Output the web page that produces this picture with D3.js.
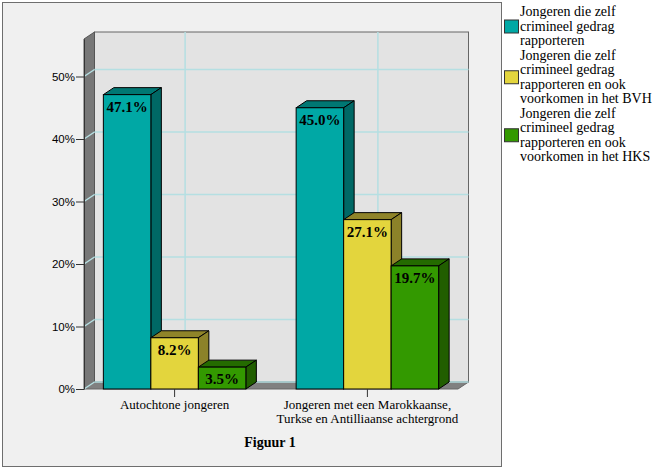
<!DOCTYPE html>
<html>
<head>
<meta charset="utf-8">
<script src="https://cdn.jsdelivr.net/npm/d3@7"></script>
<style>
  body { margin: 0; background: #fff; }
  svg { display: block; }
</style>
</head>
<body>
<div id="chart"></div>
<script>
// chart data
var categories = ["Autochtone jongeren", "Jongeren met een Marokkaanse,|Turkse en Antilliaanse achtergrond"];
var seriesNames = [
  "Jongeren die zelf|crimineel gedrag|rapporteren",
  "Jongeren die zelf|crimineel gedrag|rapporteren en ook|voorkomen in het BVH",
  "Jongeren die zelf|crimineel gedrag|rapporteren en ook|voorkomen in het HKS"
];
var selfReport = [47.1, 45.0];
var inBVH = [8.2, 27.1];
var inHKS = [3.5, 19.7];
var yTicks = [0, 10, 20, 30, 40, 50];

var seriesValues = [selfReport, inBVH, inHKS];
var colors = [
  { front: "#00a8a5", top: "#007773", side: "#006865" },
  { front: "#e3d53d", top: "#8f8429", side: "#8c8229" },
  { front: "#339900", top: "#246b00", side: "#215e00" }
];

var serif = "'Liberation Serif', 'Times New Roman', serif";

var svgWidth = 663;
var svgHeight = 474;

// depth offset of the 3D effect
var dx = 10.5;
var dy = 7;

var plot = { left: 84, right: 458, top: 39, bottom: 389 };

var svg = d3.select("#chart")
  .append("svg")
  .attr("width", svgWidth)
  .attr("height", svgHeight);

// outer frame
svg.append("rect")
  .attr("x", 2.5).attr("y", 2.5)
  .attr("width", 499).attr("height", 464)
  .attr("fill", "#f0f0f0")
  .attr("stroke", "#6e6e6e");

var yScale = d3.scaleLinear()
  .domain([0, 56])
  .range([plot.bottom, plot.top]);

var xScale = d3.scalePoint()
  .domain(categories)
  .range([plot.left, plot.right])
  .padding(0.47);

var inner = d3.scaleBand()
  .domain(d3.range(seriesNames.length))
  .range([-71.25, 71.25]);

var gridColor = "#b5dfe2";

// back wall
svg.append("rect")
  .attr("x", plot.left + dx).attr("y", plot.top - dy)
  .attr("width", plot.right - plot.left).attr("height", plot.bottom - plot.top)
  .attr("fill", "#e3e3e3")
  .attr("stroke", "#666");

// left wall
svg.append("polygon")
  .attr("points", [
    [plot.left, plot.bottom], [plot.left, plot.top],
    [plot.left + dx, plot.top - dy], [plot.left + dx, plot.bottom - dy]
  ].join(" "))
  .attr("fill", "#777")
  .attr("stroke", "#555");

// floor
svg.append("polygon")
  .attr("points", [
    [plot.left, plot.bottom], [plot.right, plot.bottom],
    [plot.right + dx, plot.bottom - dy], [plot.left + dx, plot.bottom - dy]
  ].join(" "))
  .attr("fill", "#808080")
  .attr("stroke", "#666");

// horizontal gridlines on the walls
var grid = svg.append("g");
yTicks.forEach(function(t) {
  var y = yScale(t);
  grid.append("line")
    .attr("x1", plot.left + dx).attr("x2", plot.right + dx)
    .attr("y1", y - dy).attr("y2", y - dy)
    .attr("stroke", gridColor).attr("stroke-width", 1.5);
  grid.append("line")
    .attr("x1", plot.left).attr("x2", plot.left + dx)
    .attr("y1", y).attr("y2", y - dy)
    .attr("stroke", gridColor).attr("stroke-width", 1.5);
});

// vertical gridlines at the categories
categories.forEach(function(c) {
  grid.append("line")
    .attr("x1", xScale(c) + dx).attr("x2", xScale(c) + dx)
    .attr("y1", plot.top - dy).attr("y2", plot.bottom - dy)
    .attr("stroke", gridColor).attr("stroke-width", 1.5);
});

// y axis
var leftAxis = d3.axisLeft(yScale)
  .tickValues(yTicks)
  .tickSize(8)
  .tickSizeOuter(0)
  .tickFormat(function(d) { return d + "%"; });

var yAxis = svg.append("g")
  .attr("transform", `translate(${plot.left}, 0)`)
  .call(leftAxis);
yAxis.select(".domain").attr("stroke", "#333");
yAxis.selectAll(".tick line").attr("stroke", "#333");
yAxis.selectAll("text")
  .attr("font-family", "'Liberation Sans', Arial, sans-serif")
  .attr("font-size", "11.5px")
  .attr("fill", "#000")
  .attr("x", -9);

// bars
var bars = svg.append("g");
categories.forEach(function(c, ci) {
  seriesValues.forEach(function(vals, si) {
    var v = vals[ci];
    var x0 = xScale(c) + inner(si);
    var x1 = x0 + inner.bandwidth();
    var yt = yScale(v);
    var yb = yScale(0);
    var col = colors[si];
    bars.append("polygon")
      .attr("points", [[x0, yt], [x0 + dx, yt - dy], [x1 + dx, yt - dy], [x1, yt]].join(" "))
      .attr("fill", col.top).attr("stroke", "#000");
    bars.append("polygon")
      .attr("points", [[x1, yt], [x1 + dx, yt - dy], [x1 + dx, yb - dy], [x1, yb]].join(" "))
      .attr("fill", col.side).attr("stroke", "#000");
    bars.append("rect")
      .attr("x", x0).attr("y", yt)
      .attr("width", x1 - x0).attr("height", yb - yt)
      .attr("fill", col.front).attr("stroke", "#000");
    bars.append("text")
      .attr("x", (x0 + x1) / 2)
      .attr("y", yt + 17)
      .attr("text-anchor", "middle")
      .attr("font-family", serif)
      .attr("font-weight", "bold")
      .attr("font-size", "15px")
      .text(v.toFixed(1) + "%");
  });
});

// x axis ticks and labels
var xAxisG = svg.append("g");
categories.forEach(function(c) {
  var x = xScale(c);
  xAxisG.append("line")
    .attr("x1", x).attr("x2", x)
    .attr("y1", plot.bottom).attr("y2", plot.bottom + 8)
    .attr("stroke", "#333");
  c.split("|").forEach(function(line, i) {
    xAxisG.append("text")
      .attr("x", x).attr("y", 409 + i * 13.5)
      .attr("text-anchor", "middle")
      .attr("font-family", serif)
      .attr("font-size", "13px")
      .text(line);
  });
});

// title under the chart
svg.append("text")
  .attr("x", 270).attr("y", 447)
  .attr("text-anchor", "middle")
  .attr("font-family", serif)
  .attr("font-weight", "bold")
  .attr("font-size", "14px")
  .text("Figuur 1");

// legend
var legend = svg.append("g");
var lineH = 14.5;
var lineNo = 0;
seriesNames.forEach(function(name, si) {
  var lines = name.split("|");
  var firstY = 16 + lineNo * lineH;
  var midY = firstY - 4 + (lines.length - 1) * lineH / 2;
  legend.append("rect")
    .attr("x", 504.5).attr("y", midY - 6.5)
    .attr("width", 14).attr("height", 13)
    .attr("fill", colors[si].front)
    .attr("stroke", "#333");
  lines.forEach(function(line, i) {
    legend.append("text")
      .attr("x", 520)
      .attr("y", firstY + i * lineH)
      .attr("font-family", serif)
      .attr("font-size", "14px")
      .text(line);
  });
  lineNo += lines.length;
});
</script>
</body>
</html>
